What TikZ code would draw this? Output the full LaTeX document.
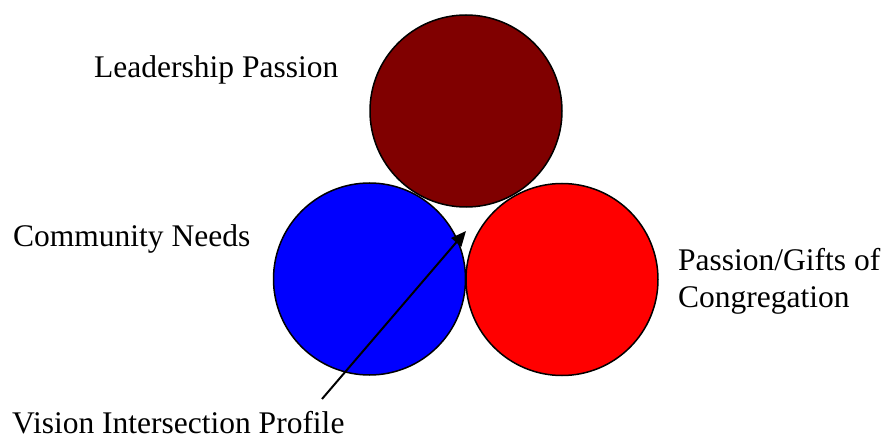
\documentclass[tikz,border=0pt]{standalone}
\usepackage{fontspec}
\setmainfont{Liberation Serif}
\usetikzlibrary{arrows.meta}
\definecolor{maroon}{RGB}{128,0,0}
\definecolor{pureblue}{RGB}{0,0,255}
\definecolor{purered}{RGB}{255,0,0}
\begin{document}
\begin{tikzpicture}[x=1pt,y=-1pt,
  ring/.style={circle,draw=black,line width=1.5pt,minimum size=192pt,inner sep=0pt},
  label/.style={anchor=base west,inner sep=0pt,font=\fontsize{31.5}{37}\selectfont,align=left},
  pointer/.style={line width=2pt,-{Triangle[length=15pt,width=13pt]}}]
\useasboundingbox (0,0) rectangle (887,441);
% the three circles
\node[ring,fill=maroon]   (lead) at (466,111) {};
\node[ring,fill=pureblue] (comm) at (369.5,279) {};
\node[ring,fill=purered]  (cong) at (562,279.5) {};
% labels
\node[label] (tlead) at (94,78)  {Leadership Passion};
\node[label] (tcomm) at (13,247) {Community Needs};
\node[label] (tcong1) at (678,270) {Passion/Gifts of};
\node[label] (tcong2) at (678,307) {Congregation};
\node[label] (tvip) at (12,433) {Vision Intersection Profile};
% pointer into the gap between the circles
\coordinate (tail) at (322,399);
\coordinate (gap) at (466,231);
\draw[pointer] (tail) -- (gap);
\end{tikzpicture}
\end{document}
